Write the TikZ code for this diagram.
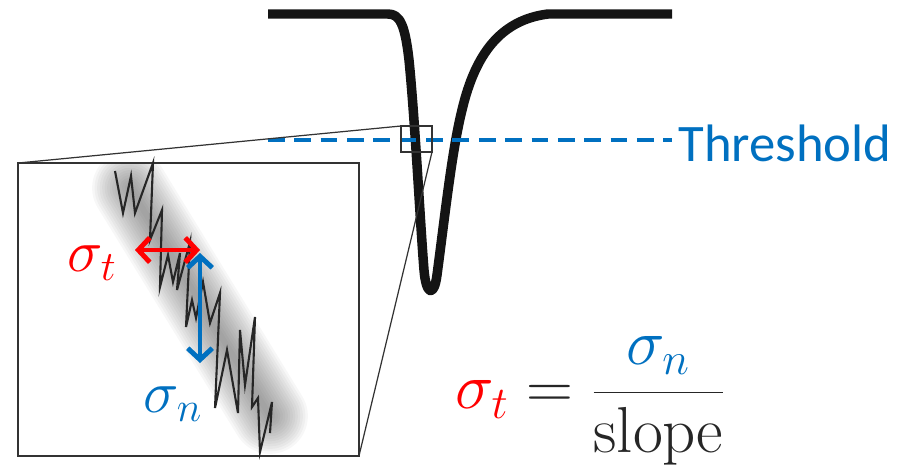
\RequirePackage{fix-cm}
\documentclass[tikz,border=0pt]{standalone}
\usepackage{fontspec}
\newfontfamily\thrfont{Carlito}
\usepackage{tikz}
\usetikzlibrary{positioning, arrows.meta}

\definecolor{thrblue}{RGB}{0,112,192}
\definecolor{sigred}{RGB}{255,0,0}
\definecolor{inkgray}{RGB}{38,38,38}

\begin{document}
\begin{tikzpicture}[
      x=0.02cm, y=-0.02cm,
      pulse_line/.style={line width=5.4pt, draw=black!92, line join=round},
      thr_line/.style={line width=2.2pt, draw=thrblue, dash pattern=on 9.5pt off 5.5pt},
      box_frame/.style={draw=black!80, line width=1.1pt, inner sep=0pt, outer sep=0pt},
      zoom_line/.style={draw=black!80, line width=0.7pt},
      noise_line/.style={draw=black!85, line width=1.2pt, line join=miter},
      sig_arrow/.style={line width=2.6pt, {Straight Barb[length=6.5pt,width=14pt,line width=2.8pt]}-{Straight Barb[length=6.5pt,width=14pt,line width=2.8pt]}},
      sig_lbl/.style={inner sep=0pt, font=\fontsize{34}{40}\selectfont},
      thr_lbl/.style={inner sep=0pt, text=thrblue, font=\thrfont\fontsize{30}{36}\selectfont}
    ]
      \useasboundingbox (0,0) rectangle (909,470);

      % pulse
      \draw[pulse_line] (268,14) -- (388,14)
        .. controls (400,14) and (405,25) .. (409,60)
        .. controls (415,120) and (420,220) .. (424,270)
        .. controls (426,295) and (434,298) .. (437,275)
        .. controls (445,215) and (452,150) .. (462,110)
        .. controls (475,55) and (500,20) .. (548,14)
        -- (672,14);

      % threshold
      \coordinate (thr_s) at (268,140);
      \coordinate (thr_e) at (672,140);
      \draw[thr_line] (thr_s) -- (thr_e);
      \node[thr_lbl, anchor=west, right=3.4pt of thr_e, yshift=-2pt] (thr) {Threshold};

      % zoom boxes
      \node[box_frame, minimum width=6.82cm, minimum height=5.86cm] (zoom_box) at (188.5,309.5) {};
      \node[box_frame, minimum width=0.62cm, minimum height=0.52cm] (probe_box) at (416.5,139) {};
      \draw[zoom_line] (zoom_box.north west) -- (probe_box.north west);
      \draw[zoom_line] (zoom_box.south east) -- (probe_box.south east);

      % blurred band
      \begin{scope}
        \clip (zoom_box.south west) rectangle (zoom_box.north east);
        \foreach \w in {6,11,...,76}
          \draw[line width=\w*0.567pt, draw=black!75, opacity=0.045, line cap=round] (130,188) -- (270,416);
      \end{scope}

      % noisy edge
      \draw[noise_line] (115,171) -- (123,213) -- (131,176) -- (135,213) -- (153,163)
        -- (150,240) -- (162,210) -- (160,287) -- (168,255) -- (173,282) -- (180,253)
        -- (177,290) -- (190,242) -- (186,327) -- (192,300) -- (196,318) -- (203,282)
        -- (210,323) -- (220,293) -- (215,408) -- (227,350) -- (238,413) -- (240,330)
        -- (245,385) -- (255,317) -- (252,407) -- (258,398) -- (260,452) -- (272,402)
        -- (270,433);

      % sigma arrows
      \coordinate (tl_a) at (135,250);
      \coordinate (tr_a) at (200,250);
      \coordinate (nt_a) at (200,253);
      \coordinate (nb_a) at (200,363);
      \draw[sig_arrow, draw=sigred] (tl_a) -- (tr_a);
      \draw[sig_arrow, draw=thrblue] (nt_a) -- (nb_a);
      \node[sig_lbl, text=sigred] (sig_t) at (92,263) {$\sigma_t$};
      \node[sig_lbl, text=thrblue] (sig_n) at (173,404) {$\sigma_n$};

      % relation
      \node[sig_lbl, text=inkgray, font=\fontsize{37}{43}\selectfont] (rel) at (590,401)
        {$\displaystyle \textcolor{sigred}{\sigma_t} = \frac{\textcolor{thrblue}{\sigma_n}}{\mathrm{slope}}$};
    \end{tikzpicture}
\end{document}
